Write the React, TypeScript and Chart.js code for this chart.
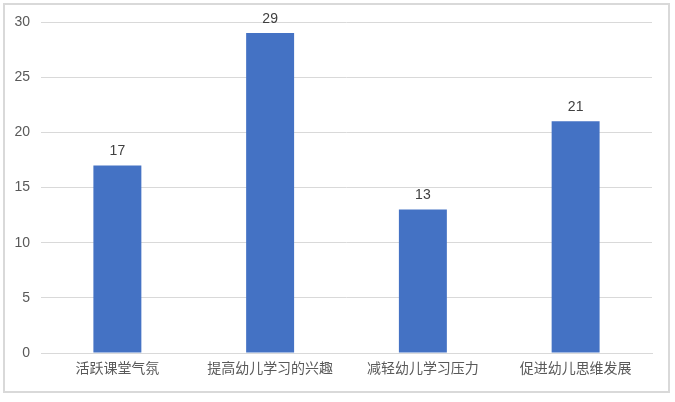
import React, { useEffect, useRef } from "react";
import { Chart, registerables } from "chart.js";

Chart.register(...registerables);

const categories = ["活跃课堂气氛", "提高幼儿学习的兴趣", "减轻幼儿学习压力", "促进幼儿思维发展"];
const values = [17, 29, 13, 21];
const yTicks = [0, 5, 10, 15, 20, 25, 30];

const FONT = "'Liberation Sans', 'Noto Sans CJK SC', sans-serif";

const framePlugin = {
  id: "frame",
  beforeDraw(chart: any) {
    const ctx = chart.ctx;
    ctx.save();
    ctx.fillStyle = "#ffffff";
    ctx.fillRect(0, 0, chart.width, chart.height);
    ctx.strokeStyle = "#d9d9d9";
    ctx.lineWidth = 2;
    ctx.strokeRect(4, 4, 665, 388);
    ctx.restore();
  },
};

const labelPlugin = {
  id: "barLabels",
  afterDatasetsDraw(chart: any) {
    const ctx = chart.ctx;
    const meta = chart.getDatasetMeta(0);
    ctx.save();
    ctx.font = `14px ${FONT}`;
    ctx.fillStyle = "#404040";
    ctx.textAlign = "center";
    ctx.textBaseline = "bottom";
    meta.data.forEach((bar: any, i: number) => {
      ctx.fillText(String(values[i]), bar.x, bar.y - 7);
    });
    ctx.restore();
  },
};

export default function App() {
  const ref = useRef<HTMLCanvasElement | null>(null);
  useEffect(() => {
    document.body.style.margin = "0";
    const chart = new Chart(ref.current!, {
      type: "bar",
      data: {
        labels: categories,
        datasets: [
          {
            data: values,
            backgroundColor: "#4472C4",
            barPercentage: 0.314,
            categoryPercentage: 1,
          },
        ],
      },
      options: {
        animation: false,
        responsive: false,
        devicePixelRatio: 1,
        layout: { padding: { top: 22, right: 23, left: 0, bottom: 0 } },
        plugins: { legend: { display: false }, tooltip: { enabled: false } },
        scales: {
          x: {
            grid: { display: false, drawTicks: false },
            border: { color: "#d9d9d9", width: 1 },
            ticks: { color: "#595959", font: { family: FONT, size: 14 }, padding: 8, maxRotation: 0 },
            afterFit: (s: any) => {
              s.height = 49;
            },
          },
          y: {
            min: 0,
            max: 30,
            afterBuildTicks: (s: any) => {
              s.ticks = yTicks.map((v) => ({ value: v }));
            },
            grid: { color: "#d9d9d9", lineWidth: 1, drawTicks: false },
            border: { display: false },
            ticks: { color: "#595959", font: { family: FONT, size: 14 }, padding: 11 },
            afterFit: (s: any) => {
              s.width = 41;
            },
          },
        },
      },
      plugins: [framePlugin, labelPlugin],
    });
    return () => chart.destroy();
  }, []);
  return (
    <div style={{ position: "absolute", top: 0, left: 0, width: 675, height: 402 }}>
      <canvas ref={ref} width={675} height={402} style={{ width: 675, height: 402 }} />
    </div>
  );
}
